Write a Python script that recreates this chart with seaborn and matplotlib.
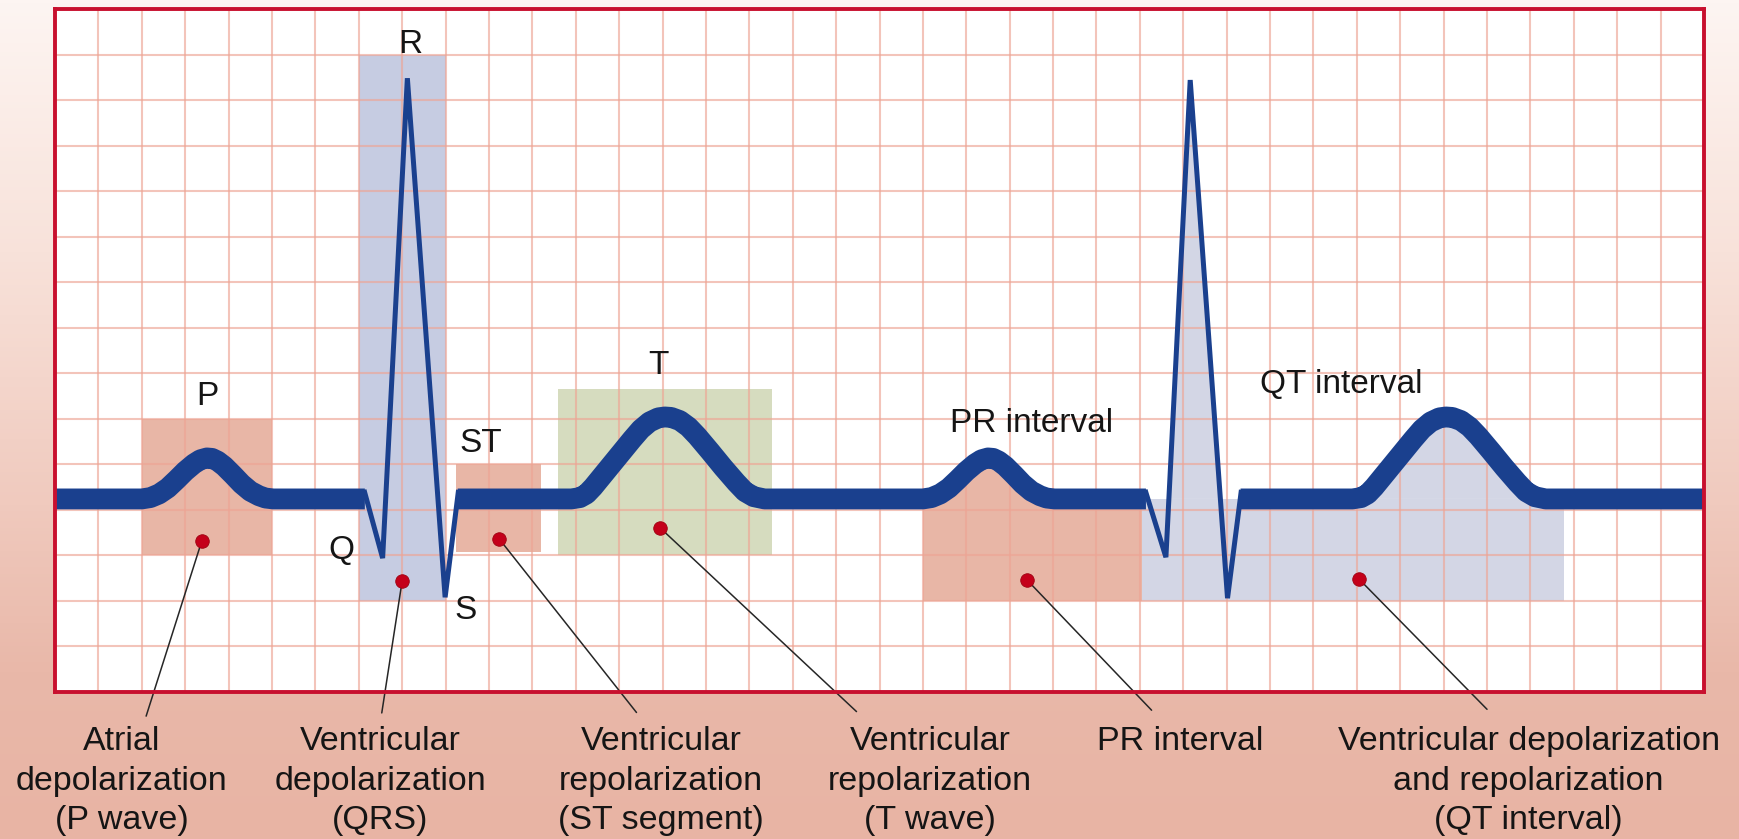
import numpy as np
import matplotlib
matplotlib.use("Agg")
import matplotlib.pyplot as plt
import seaborn as sns
from matplotlib.colors import LinearSegmentedColormap
from matplotlib.patches import Rectangle

# ---------------- data (units = ECG grid squares) ----------------
baseline = 4.24

# thick trace: baseline + P wave (beat 1)
trace_a_x = [0.0, 2.0, 2.2, 2.4, 2.6, 2.8, 3.0, 3.2, 3.35, 3.5, 3.62, 3.75, 3.9,
             4.1, 4.3, 4.5, 4.7, 4.85, 5.03, 7.14]
trace_a_y = [4.24, 4.24, 4.27, 4.35, 4.48, 4.66, 4.85, 5.01, 5.1, 5.14, 5.13, 5.07, 4.96,
             4.77, 4.57, 4.41, 4.31, 4.26, 4.24, 4.24]
# thin QRS complex, beat 1
qrs1_x = [7.12, 7.55, 8.12, 8.99, 9.3]
qrs1_y = [4.44, 2.94, 13.48, 2.08, 4.44]
# thick trace: ST segment, T wave, P wave (beat 2), PR segment
trace_b_x = [9.28, 11.9, 12.1, 12.25, 12.4, 12.7, 13.0, 13.3, 13.5, 13.7, 13.9, 14.05,
             14.2, 14.4, 14.6, 14.8, 15.1, 15.4, 15.7, 15.9, 16.1, 16.35,
             20.0, 20.2, 20.4, 20.6, 20.8, 21.0, 21.2, 21.35, 21.5, 21.62, 21.75, 21.9,
             22.1, 22.3, 22.5, 22.7, 22.85, 23.03, 25.14]
trace_b_y = [4.24, 4.24, 4.27, 4.35, 4.5, 4.85, 5.2, 5.55, 5.77, 5.93, 6.02, 6.04,
             6.03, 5.96, 5.82, 5.62, 5.28, 4.93, 4.6, 4.4, 4.29, 4.24,
             4.24, 4.27, 4.35, 4.48, 4.66, 4.85, 5.01, 5.1, 5.14, 5.13, 5.07, 4.96,
             4.77, 4.57, 4.41, 4.31, 4.26, 4.24, 4.24]
# thin QRS complex, beat 2
qrs2_x = [25.12, 25.6, 26.16, 27.02, 27.34]
qrs2_y = [4.44, 2.96, 13.44, 2.06, 4.44]
# thick trace: ST segment, T wave (beat 2), baseline
trace_c_x = [27.32, 29.9, 30.1, 30.25, 30.4, 30.7, 31.0, 31.3, 31.5, 31.7, 31.9, 32.05,
             32.2, 32.4, 32.6, 32.8, 33.1, 33.4, 33.7, 33.9, 34.1, 34.35, 38.0]
trace_c_y = [4.24, 4.24, 4.27, 4.35, 4.5, 4.85, 5.2, 5.55, 5.77, 5.93, 6.02, 6.04,
             6.03, 5.96, 5.82, 5.62, 5.28, 4.93, 4.6, 4.4, 4.29, 4.24, 4.24]

# highlighted boxes (P wave, QRS, ST segment, T wave)
box_x0 = [2.0, 7.0, 9.25, 11.58]
box_x1 = [5.0, 9.0, 11.2, 16.53]
box_y0 = [3.0, 2.0, 3.07, 3.0]
box_y1 = [6.0, 14.0, 5.0, 6.65]
box_colors = ["#e8b6a6", "#c6cce2", "#e8b6a6", "#d6dcbf"]

# interval regions (filled under the trace down to the floor)
pr_start, pr_end = 20.0, 25.04
qt_start, qt_end = 25.04, 34.78
interval_floor = 2.0

# wave labels
wave_labels = ["P", "R", "Q", "S", "ST", "T", "PR interval", "QT interval"]
wave_label_x = [3.51, 8.19, 6.6, 9.47, 9.8, 13.9, 22.5, 29.65]
wave_label_y = [6.48, 14.22, 3.1, 1.78, 5.46, 7.16, 5.9, 6.75]

# annotation dots and leader-line ends
dot_x = [3.38, 8.0, 10.23, 13.95, 22.4, 30.04]
dot_y = [3.31, 2.44, 3.37, 3.6, 2.46, 2.49]
leader_end_x = [2.1, 7.53, 13.4, 18.47, 25.27, 33.0]
leader_end_y = [-0.53, -0.46, -0.45, -0.43, -0.4, -0.38]

captions = ["Atrial\ndepolarization\n(P wave)",
            "Ventricular\ndepolarization\n(QRS)",
            "Ventricular\nrepolarization\n(ST segment)",
            "Ventricular\nrepolarization\n(T wave)",
            "PR interval",
            "Ventricular depolarization\nand repolarization\n(QT interval)"]
caption_x = [1.54, 7.49, 13.97, 20.17, 25.92, 33.96]
caption_line_y = [-1.274, -2.152, -3.009]

# ---------------- styling ----------------
sns.set_theme(style="white")
plt.rcParams["font.family"] = ["Liberation Sans", "DejaVu Sans"]

ECG_BLUE = "#1a408e"
FRAME_RED = "#c8102e"
DOT_RED = "#c4001a"
SALMON = "#e8b6a6"
QT_FILL = "#d3d6e5"

fig = plt.figure(figsize=(17.39, 8.39), dpi=100)

# gradient background
bg = fig.add_axes([0, 0, 1, 1], zorder=-10)
cmap = LinearSegmentedColormap.from_list(
    "bg", [(0.0, "#fdf5f2"), (0.3, "#f8e2da"), (0.6, "#f0cabe"),
           (0.8, "#e9b8a9"), (1.0, "#e8b4a4")])
bg.imshow(np.linspace(0, 1, 256).reshape(-1, 1), aspect="auto", cmap=cmap,
          extent=[0, 1, 0, 1], origin="upper")
bg.axis("off")

ax = fig.add_axes([55 / 1739, 1 - 692 / 839, (1704 - 55) / 1739, (692 - 9) / 839])
ax.set_facecolor("white")
ax.set_xlim(0, 38)
ax.set_ylim(0, 15)
ax.set_xticks(np.arange(0, 39))
ax.set_yticks(np.arange(0, 16))
ax.tick_params(length=0, labelbottom=False, labelleft=False)
ax.grid(True, color="#eea595", lw=1.5, alpha=0.65)
ax.set_axisbelow("line")
for sp in ax.spines.values():
    sp.set_color(FRAME_RED)
    sp.set_linewidth(2.8)
    sp.set_zorder(10)

# boxes
for x0, x1, y0, y1, c in zip(box_x0, box_x1, box_y0, box_y1, box_colors):
    ax.add_patch(Rectangle((x0, y0), x1 - x0, y1 - y0, facecolor=c,
                           edgecolor="none", zorder=1))

# PR interval region: floor-to-baseline band plus area under the second P wave
bx = np.array(trace_b_x)
by = np.array(trace_b_y)
m = (bx >= pr_start) & (bx <= pr_end)
ax.fill_between([pr_start, pr_end], interval_floor, baseline, color=SALMON, lw=0, zorder=1)
ax.fill_between(bx[m], baseline, by[m], where=by[m] >= baseline, interpolate=True,
                color=SALMON, lw=0, zorder=1)

# QT interval region: band plus area under R spike and T wave of beat 2
cx = np.array(trace_c_x)
cy = np.array(trace_c_y)
mc = cx <= qt_end
qt_x = np.concatenate([qrs2_x, cx[mc]])
qt_y = np.concatenate([qrs2_y, cy[mc]])
ax.fill_between([qt_start, qt_end], interval_floor, baseline, color=QT_FILL, lw=0, zorder=1)
ax.fill_between(qt_x, baseline, qt_y, where=qt_y >= baseline, interpolate=True,
                color=QT_FILL, lw=0, zorder=1)

# ECG trace
for xs, ys in [(trace_a_x, trace_a_y), (trace_b_x, trace_b_y), (trace_c_x, trace_c_y)]:
    sns.lineplot(x=xs, y=ys, sort=False, estimator=None, ax=ax, color=ECG_BLUE,
                 linewidth=15.0, solid_joinstyle="round", solid_capstyle="butt",
                 zorder=3)
for xs, ys in [(qrs1_x, qrs1_y), (qrs2_x, qrs2_y)]:
    sns.lineplot(x=xs, y=ys, sort=False, estimator=None, ax=ax, color=ECG_BLUE,
                 linewidth=3.6, solid_joinstyle="miter", solid_capstyle="butt",
                 zorder=3)

# leader lines
for x0, y0, x1, y1 in zip(dot_x, dot_y, leader_end_x, leader_end_y):
    ax.plot([x0, x1], [y0, y1], color="#262626", lw=1.1, zorder=4, clip_on=False)

# dots
sns.scatterplot(x=dot_x, y=dot_y, ax=ax, s=95, color=DOT_RED, edgecolor="#9e0010",
                linewidth=0.6, zorder=5)

# wave labels
for t, x, y in zip(wave_labels, wave_label_x, wave_label_y):
    ax.text(x, y, t, ha="center", va="center", fontsize=24, color="#151515", zorder=6)

# captions below the strip
for cap, x in zip(captions, caption_x):
    for line, y in zip(cap.split("\n"), caption_line_y):
        ax.text(x, y, line, ha="center", va="baseline", fontsize=24.5,
                color="#151515", clip_on=False)

ax.set_xlabel("")
ax.set_ylabel("")
fig.savefig("out.png", dpi=100)
